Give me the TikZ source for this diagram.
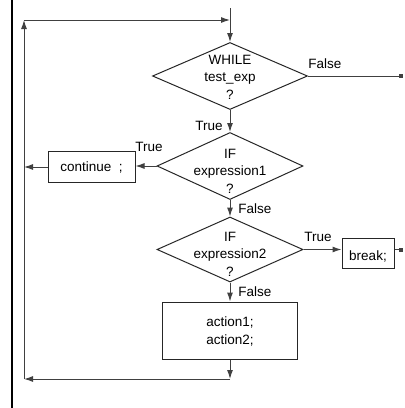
\documentclass[tikz,border=0pt]{standalone}
\usepackage{fontspec}
\setmainfont{Liberation Sans}
\usetikzlibrary{shapes.geometric,arrows.meta}
\begin{document}
\begin{tikzpicture}[x=1pt,y=-1pt,
  ln/.style={draw=black!75, line width=1pt},
  arr/.style={ln, -{Latex[length=9pt,width=6pt]}},
  sq/.style={ln, -{Square[length=4pt,width=4pt]}},
  dia/.style={diamond, draw=black!85, line width=1pt, inner sep=0pt},
  box/.style={rectangle, draw=black!85, line width=1pt, inner sep=0pt},
  txt/.style={font=\fontsize{13.5}{17.5}\selectfont, align=center, inner sep=0pt},
  lbl/.style={font=\fontsize{13.5}{15}\selectfont, inner sep=0pt},
]
\useasboundingbox (0,0) rectangle (405,408);
\draw[line width=2pt] (12,0) -- (12,408);

% shapes
\node[dia, minimum width=155pt, minimum height=67pt] (w) at (230,76) {};
\node[txt] (wt) at (230,77) {WHILE\\test\_exp\\?};
\node[dia, minimum width=146pt, minimum height=67pt] (d1) at (230,166) {};
\node[txt] (d1t) at (230,171) {IF\\expression1\\?};
\node[dia, minimum width=146pt, minimum height=65pt] (d2) at (230,249.5) {};
\node[txt] (d2t) at (230,254) {IF\\expression2\\?};
\node[box, minimum width=87pt, minimum height=31pt] (cont) at (91.5,167) {};
\node[txt] (contt) at (91.5,167) {continue~~;};
\node[box, minimum width=52pt, minimum height=30pt] (brk) at (368,253) {};
\node[txt] (brkt) at (368,256) {break;};
\node[box, minimum width=135pt, minimum height=57pt] (act) at (230,330.5) {};
\node[txt] (actt) at (230,331.5) {action1;\\action2;};

% coordinates
\coordinate (top) at (230,8);
\coordinate (tj) at (230,20);
\coordinate (tl) at (24,20);
\coordinate (bl) at (24,379);
\coordinate (bj) at (230,379);
\coordinate (cl) at (24,167);
\coordinate (fe) at (403,76);
\coordinate (be) at (403,249.5);

% connectors
\draw[arr] (top) -- (w.north);
\draw[sq] (w.east) -- (fe);
\draw[arr] (w.south) -- (d1.north);
\draw[arr] (d1.west) -- (cont.east |- d1.west);
\draw[arr] (cont.west |- cl) -- (cl);
\draw[arr] (d1.south) -- (d2.north);
\draw[arr] (d2.east) -- (brk.west |- d2.east);
\draw[sq] (brk.east |- be) -- (be);
\draw[arr] (d2.south) -- (act.north);
\draw[arr] (act.south) -- (bj);
\draw[arr] (bj) -- (bl);
\draw[arr] (bl) -- (tl);
\draw[arr] (tl) -- (tj);

% labels
\node[lbl] (l1) at (325,64) {False};
\node[lbl] (l2) at (209,126) {True};
\node[lbl] (l3) at (149,147) {True};
\node[lbl] (l4) at (255,209) {False};
\node[lbl] (l5) at (318,237) {True};
\node[lbl] (l6) at (255,292) {False};
\end{tikzpicture}
\end{document}
